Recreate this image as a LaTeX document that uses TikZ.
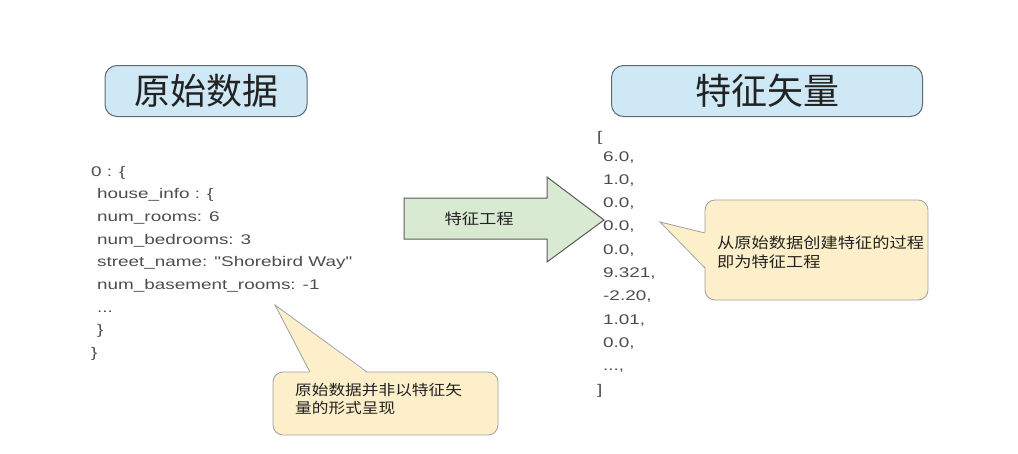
\documentclass[tikz,border=0pt]{standalone}
\usepackage{fontspec}
\usepackage{xcolor}
\usepackage{tikz}
\usetikzlibrary{positioning}
\setmainfont{Liberation Sans}
\newfontfamily\codefont[FakeStretch=1.35]{Liberation Sans}
\newfontfamily\cjk{Noto Sans CJK SC}
\newfontfamily\cjkwide[FakeStretch=1.15]{Noto Sans CJK SC}
\definecolor{hdfill}{HTML}{CFE8F5}
\definecolor{hdline}{HTML}{5F6B73}
\definecolor{arfill}{HTML}{D9EAD3}
\definecolor{arline}{HTML}{5A5A5A}
\definecolor{ntfill}{HTML}{FCEFC9}
\definecolor{ntline}{HTML}{A0A0A0}
\definecolor{codegray}{HTML}{4D4D4D}
\definecolor{txdark}{HTML}{222222}
\newcommand{\tdots}{.\kern0pt.\kern0pt.}

\begin{document}
\begin{tikzpicture}[
  x=1pt, y=-1pt,
  headbox/.style={rectangle, rounded corners=12pt, draw=hdline, fill=hdfill, line width=1pt,
                  minimum width=#1, minimum height=51pt, inner sep=0pt,
                  font=\cjk\fontsize{36}{36}\selectfont, text=txdark},
  codeln/.style={anchor=base west, inner sep=0pt, font=\codefont\fontsize{14}{16}\selectfont, text=codegray},
  blockarr/.style={draw=arline, fill=arfill, line width=1pt, line join=miter},
  arrlbl/.style={inner sep=0pt, font=\cjkwide\fontsize{15}{18}\selectfont, text=txdark},
  note/.style={rounded corners=10pt, fill=ntfill, draw=ntline, line width=0.8pt},
  notetext/.style={anchor=north west, align=left, inner sep=0pt, text=txdark}
]
\useasboundingbox (0,0) rectangle (1018,453);

% headings
\node[headbox=202pt] (rawhead) at (206,91) {原始数据};
\node[headbox=311pt] (vechead) at (767,91) {特征矢量};

% raw record
\foreach \x/\t [count=\i from 0] in {91/{0 : \{}, 97/{house\_info : \{}, 97/{num\_rooms: 6},
    97/{num\_bedrooms: 3}, 97/{street\_name: "Shorebird Way"}, 97/{num\_basement\_rooms: -1},
    97/{\tdots}, 97/{\}}, 91/{\}}}
  \node[codeln] (raw\i) at (\x,176+22.7*\i) {\t};

% feature vector
\node[codeln] (vecopen) at (597,141) {[};
\foreach \t [count=\i from 0] in {{6.0,}, {1.0,}, {0.0,}, {0.0,}, {0.0,}, {9.321,}, {-2.20,},
    {1.01,}, {0.0,}, {\tdots,}}
  \node[codeln] (vec\i) at (603,161+23.3*\i) {\t};
\node[codeln] (vecclose) at (597,394) {]};

% feature engineering arrow
\draw[blockarr] (404,198) -- (547,198) -- (547,177) -- (604,220) -- (547,262) -- (547,239)
  -- (404,239) -- cycle;
\node[arrlbl] (feat) at (479,219) {特征工程};

% callout under the raw record
\draw[note] (273,372) rectangle (498,435);
\fill[ntfill] (275,305) -- (310,373.5) -- (367,373.5) -- cycle;
\draw[draw=ntline, line width=0.8pt] (310,372) -- (275,305) -- (367,372);
\node[notetext, font=\cjkwide\fontsize{14.5}{18}\selectfont] (note1) at (295,383)
  {原始数据并非以特征矢\\量的形式呈现};

% callout beside the vector
\draw[note] (705,200) rectangle (928,300);
\fill[ntfill] (660,222) -- (706.5,233) -- (706.5,268) -- cycle;
\draw[draw=ntline, line width=0.8pt] (705,233) -- (660,222) -- (705,268);
\node[notetext, font=\cjkwide\fontsize{15}{19}\selectfont] (note2) at (717,236)
  {从原始数据创建特征的过程\\即为特征工程};
\end{tikzpicture}
\end{document}
